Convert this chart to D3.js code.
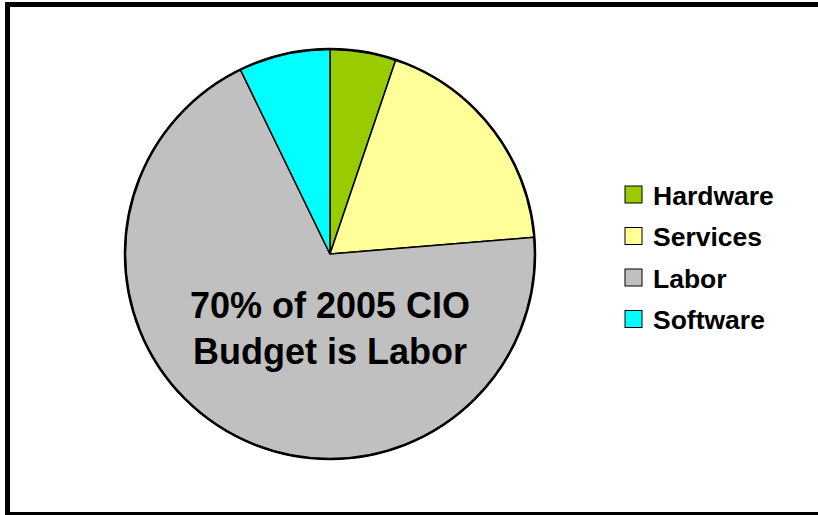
<!DOCTYPE html>
<html>
<head>
<meta charset="utf-8">
<script src="https://cdn.jsdelivr.net/npm/d3@7"></script>
<style>
  html, body { margin: 0; padding: 0; background: #fff; }
  svg { display: block; font-family: Arial, "Liberation Sans", sans-serif; }
</style>
</head>
<body>
<svg width="818" height="515"></svg>
<script>
// chart values (percent of budget)
const categories = ['Hardware', 'Services', 'Labor', 'Software'];
const values = [5.2, 18.5, 69.1, 7.2];
const colors = ['#99cc00', '#ffff99', '#c0c0c0', '#00ffff'];
const titleLines = ['70% of 2005 CIO', 'Budget is Labor'];

const svg = d3.select('svg');
const cx = 330, cy = 254, radius = 205;

// outer frame
svg.append('rect')
    .attr('x', 7.5).attr('y', 4.5)
    .attr('width', 830).attr('height', 510)
    .attr('fill', '#fff')
    .attr('stroke', '#000')
    .attr('stroke-width', 5);

const data = categories.map((c, i) => ({ name: c, value: values[i], color: colors[i] }));

const pie = d3.pie().sort(null).value(d => d.value);
const arc = d3.arc().innerRadius(0).outerRadius(radius);

const g = svg.append('g').attr('transform', `translate(${cx},${cy})`);

g.selectAll('path')
    .data(pie(data))
    .join('path')
    .attr('d', arc)
    .attr('fill', d => d.data.color)
    .attr('stroke', '#000')
    .attr('stroke-width', 1.5)
    .attr('stroke-linejoin', 'round');

g.append('circle')
    .attr('r', radius)
    .attr('fill', 'none')
    .attr('stroke', '#000')
    .attr('stroke-width', 2.5);

// label inside labor slice
g.append('text')
    .attr('text-anchor', 'middle')
    .attr('font-size', 36)
    .attr('font-weight', 'bold')
    .attr('fill', '#000')
    .selectAll('tspan')
    .data(titleLines)
    .join('tspan')
    .attr('x', 0)
    .attr('y', (d, i) => 64 + i * 46)
    .text(d => d);

// legend
const legend = svg.append('g').attr('transform', 'translate(625,186)');
const row = legend.selectAll('g')
    .data(data)
    .join('g')
    .attr('transform', (d, i) => `translate(0,${i * 41.5})`);

row.append('rect')
    .attr('width', 17).attr('height', 17)
    .attr('fill', d => d.color)
    .attr('stroke', '#000')
    .attr('stroke-width', 1);

row.append('text')
    .attr('x', 28)
    .attr('y', 18.5)
    .attr('font-size', 26.5)
    .attr('font-weight', 'bold')
    .attr('fill', '#000')
    .text(d => d.name);
</script>
</body>
</html>
